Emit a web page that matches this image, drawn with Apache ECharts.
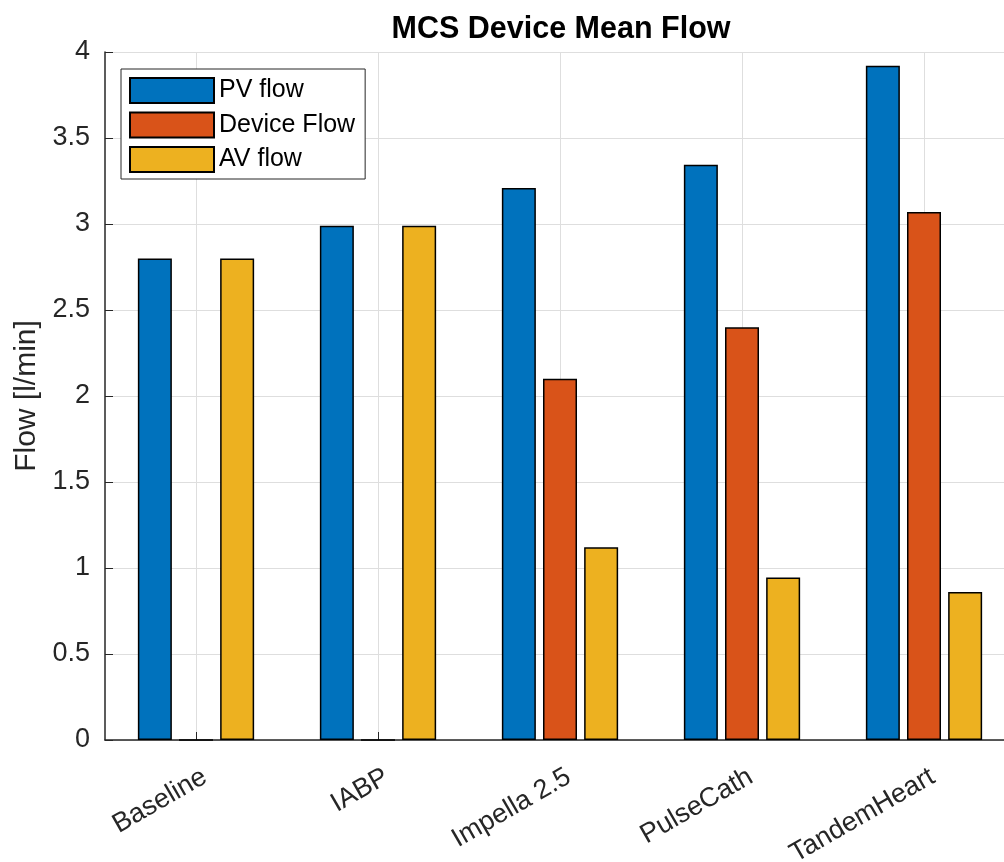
<!DOCTYPE html>
<html>
<head>
<meta charset="utf-8">
<script src="https://cdn.jsdelivr.net/npm/echarts@6/dist/echarts.min.js"></script>
<style>html,body{margin:0;padding:0;background:#fff;}#c{width:1004px;height:862px;}</style>
</head>
<body>
<div id="c"></div>
<script>
const categories = ['Baseline', 'IABP', 'Impella 2.5', 'PulseCath', 'TandemHeart'];
const pvFlow = [2.80, 2.99, 3.21, 3.345, 3.92];
const deviceFlow = [0, 0, 2.10, 2.40, 3.07];
const avFlow = [2.80, 2.99, 1.12, 0.945, 0.86];
const yTicks = ['0', '0.5', '1', '1.5', '2', '2.5', '3', '3.5', '4'];

const FONT = '"Liberation Sans", Arial, Helvetica, sans-serif';
const chart = echarts.init(document.getElementById('c'), null, {renderer: 'canvas'});

function barSeries(name, data, color) {
  return {
    name: name, type: 'bar', data: data,
    barWidth: 34, barGap: '21%',
    itemStyle: {color: color, borderColor: '#000', borderWidth: 1.5},
    emphasis: {disabled: true}
  };
}

chart.setOption({
  animation: false,
  textStyle: {fontFamily: FONT},
  title: {
    text: 'MCS Device Mean Flow',
    left: 556, top: 9, textAlign: 'center',
    textStyle: {fontFamily: FONT, fontSize: 30.5, fontWeight: 'bold', color: '#000'}
  },
  legend: {
    orient: 'vertical', left: 121, top: 69,
    padding: [8, 10, 6, 8],
    itemWidth: 84, itemHeight: 25, itemGap: 7.5,
    borderColor: '#262626', borderWidth: 1, backgroundColor: '#fff',
    textStyle: {fontFamily: FONT, fontSize: 25, color: '#000', lineHeight: 25},
    icon: 'rect',
    data: ['PV flow', 'Device Flow', 'AV flow']
  },
  grid: {left: 105, top: 52, height: 688, width: 910, containLabel: false, outerBoundsMode: 'none'},
  xAxis: {
    type: 'category', data: categories, boundaryGap: true,
    axisLine: {show: true, lineStyle: {color: '#262626', width: 1.5}},
    axisTick: {show: true, inside: true, length: 8, alignWithLabel: true, lineStyle: {color: '#262626'}},
    splitLine: {show: true, alignWithLabel: true, lineStyle: {color: '#dedede', width: 1}},
    axisLabel: {rotate: 30, margin: 40, padding: [0, -10, 0, 0], fontFamily: FONT, fontSize: 27, color: '#262626', interval: 0}
  },
  yAxis: {
    type: 'value', min: 0, max: 4, interval: 0.5,
    name: 'Flow [l/min]', nameLocation: 'middle', nameGap: 58,
    nameTextStyle: {fontFamily: FONT, fontSize: 30, color: '#262626'},
    axisLine: {show: true, lineStyle: {color: '#262626', width: 1.5}},
    axisTick: {show: true, inside: true, length: 8, lineStyle: {color: '#262626'}},
    splitLine: {show: true, lineStyle: {color: '#dedede', width: 1}},
    axisLabel: {margin: 15, fontFamily: FONT, fontSize: 27, color: '#262626',
      formatter: function (v) { return yTicks[Math.round(v / 0.5)]; }}
  },
  series: [
    barSeries('PV flow', pvFlow, '#0072BD'),
    barSeries('Device Flow', deviceFlow, '#D95319'),
    barSeries('AV flow', avFlow, '#EDB120')
  ]
});
</script>
</body>
</html>
